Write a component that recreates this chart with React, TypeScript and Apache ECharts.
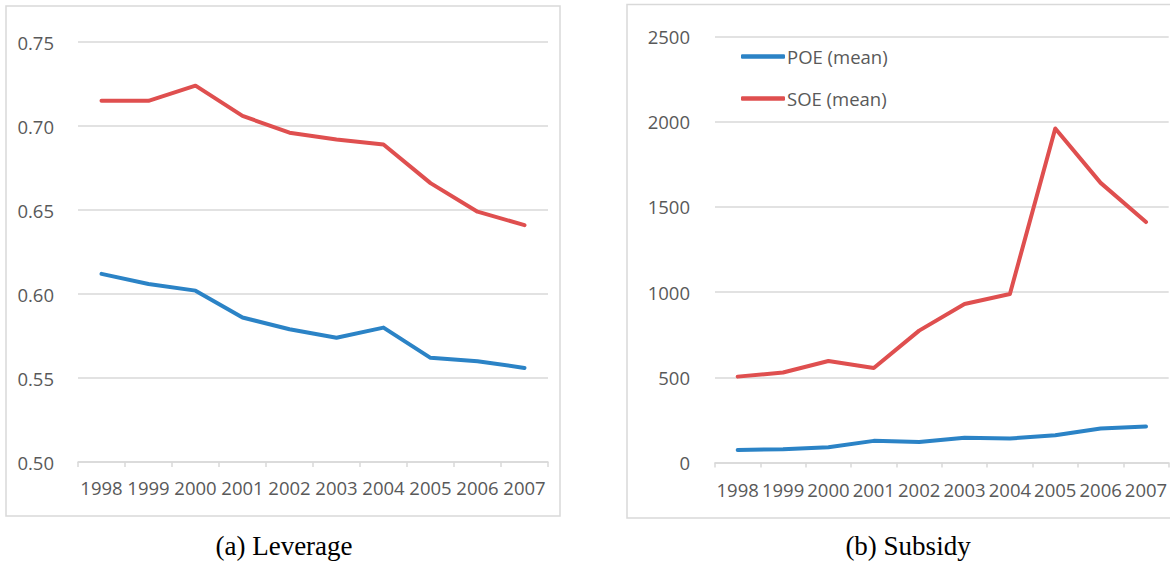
import React, { useEffect, useRef } from "react";
import * as echarts from "echarts";

const years = ["1998", "1999", "2000", "2001", "2002", "2003", "2004", "2005", "2006", "2007"];
const leveragePOE = [0.612, 0.606, 0.602, 0.586, 0.579, 0.574, 0.58, 0.562, 0.56, 0.556];
const leverageSOE = [0.715, 0.715, 0.724, 0.706, 0.696, 0.692, 0.689, 0.666, 0.649, 0.641];
const subsidyPOE = [73, 78, 90, 127, 120, 145, 141, 160, 199, 211];
const subsidySOE = [504, 528, 596, 555, 774, 930, 989, 1960, 1641, 1411];
const seriesNames = ["POE (mean)", "SOE (mean)"];
const captions = ["(a) Leverage", "(b) Subsidy"];

const BLUE = "#2b83c6";
const RED = "#df4f4f";
const GRID = "#d9d9d9";
const TEXT = "#595959";
const FONT = "'Open Sans', 'Noto Sans', sans-serif";
const FS = 18.5;

export default function App() {
  const ref = useRef<HTMLDivElement>(null);
  useEffect(() => {
    if (!ref.current) return;
    const chart = echarts.init(ref.current, undefined, { renderer: "svg" });
    const xAxisBase = (gridIndex: number, margin: number) => ({
      type: "category" as const,
      gridIndex,
      data: years,
      boundaryGap: true,
      axisLine: { show: true, lineStyle: { color: GRID, width: 1.5 } },
      axisTick: { show: true, length: 5, lineStyle: { color: GRID, width: 1.5 } },
      axisLabel: { color: TEXT, fontSize: FS, fontFamily: FONT, margin, interval: 0 },
      splitLine: { show: false },
    });
    const lineSeries = (name: string, data: number[], color: string, idx: number) => ({
      type: "line" as const,
      name,
      data,
      xAxisIndex: idx,
      yAxisIndex: idx,
      symbol: "none",
      lineStyle: { color, width: 4, cap: "round", join: "round" },
      itemStyle: { color },
    });
    chart.setOption({
      animation: false,
      backgroundColor: "#ffffff",
      grid: [
        { left: 78, top: 42, width: 470, height: 420 },
        { left: 715, top: 36.5, width: 457, height: 426 },
      ],
      xAxis: [xAxisBase(0, 16), xAxisBase(1, 17)],
      yAxis: [
        {
          type: "value",
          gridIndex: 0,
          min: 0.5,
          max: 0.75,
          interval: 0.05,
          axisLine: { show: false },
          axisTick: { show: false },
          axisLabel: {
            color: TEXT,
            fontSize: FS,
            fontFamily: FONT,
            margin: 24,
            formatter: (v: number) => v.toFixed(2),
          },
          splitLine: { show: true, lineStyle: { color: GRID, width: 1.5 } },
        },
        {
          type: "value",
          gridIndex: 1,
          min: 0,
          max: 2500,
          interval: 500,
          axisLine: { show: false },
          axisTick: { show: false },
          axisLabel: {
            color: TEXT,
            fontSize: FS,
            fontFamily: FONT,
            margin: 25,
            formatter: (v: number) => String(v),
          },
          splitLine: { show: true, lineStyle: { color: GRID, width: 1.5 } },
        },
      ],
      legend: {
        data: [
          { name: seriesNames[0], icon: "roundRect", itemStyle: { color: BLUE } },
          { name: seriesNames[1], icon: "roundRect", itemStyle: { color: RED } },
        ],
        orient: "vertical",
        left: 736,
        top: 41,
        itemWidth: 44,
        itemHeight: 4.5,
        itemGap: 21,
        textStyle: { color: TEXT, fontSize: FS, fontFamily: FONT, lineHeight: 21, padding: [0, 0, 0, -3] },
        selectedMode: false,
      },
      graphic: [
        {
          type: "rect",
          shape: { x: 6, y: 6, width: 554, height: 510 },
          style: { fill: "none", stroke: GRID, lineWidth: 1.5 },
          silent: true,
        },
        {
          type: "rect",
          shape: { x: 627, y: 4.5, width: 600, height: 513.5 },
          style: { fill: "none", stroke: GRID, lineWidth: 1.5 },
          silent: true,
        },
        {
          type: "text",
          x: 284,
          y: 546,
          style: {
            text: captions[0],
            fill: "#000",
            font: "27px 'Liberation Serif', serif",
            textAlign: "center",
            textVerticalAlign: "middle",
          },
        },
        {
          type: "text",
          x: 908,
          y: 546,
          style: {
            text: captions[1],
            fill: "#000",
            font: "27px 'Liberation Serif', serif",
            textAlign: "center",
            textVerticalAlign: "middle",
          },
        },
      ],
      series: [
        lineSeries(seriesNames[0], leveragePOE, BLUE, 0),
        lineSeries(seriesNames[1], leverageSOE, RED, 0),
        lineSeries(seriesNames[0], subsidyPOE, BLUE, 1),
        lineSeries(seriesNames[1], subsidySOE, RED, 1),
      ],
    });
    return () => chart.dispose();
  }, []);
  return (
    <div
      ref={ref}
      style={{ position: "fixed", left: 0, top: 0, width: 1170, height: 562, background: "#fff" }}
    />
  );
}
